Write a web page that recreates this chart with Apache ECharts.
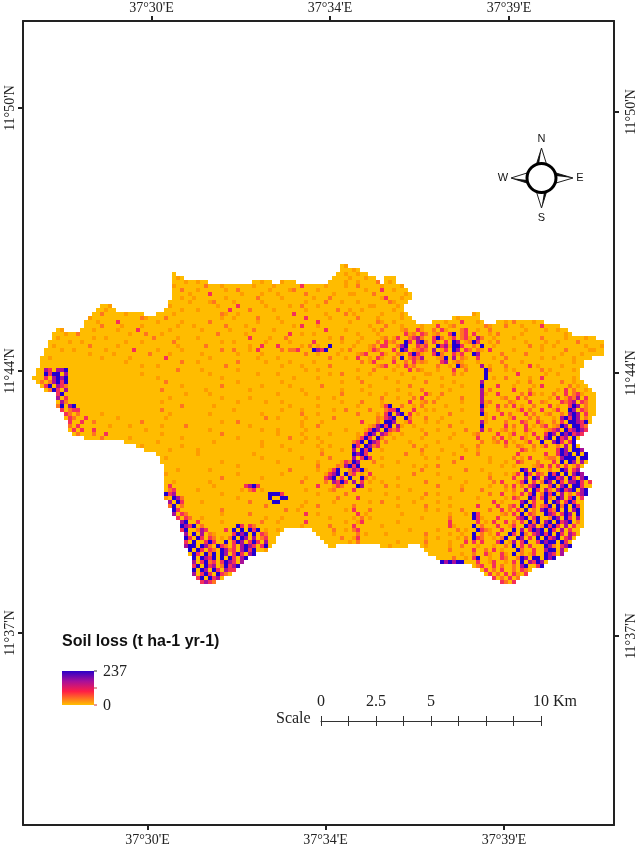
<!DOCTYPE html>
<html>
<head>
<meta charset="utf-8">
<style>html,body{margin:0;padding:0;background:#fff}#c{width:638px;height:847px}</style>
<script src="https://cdn.jsdelivr.net/npm/echarts@6/dist/echarts.min.js"></script>
</head>
<body>
<div id="c"></div>
<script>
const lonLabels = ["37°30'E", "37°34'E", "37°39'E"];
const latLabels = ["11°50'N", "11°44'N", "11°37'N"];
const lonTicksTop = [151.5, 330, 509];
const lonTicksBottom = [147.5, 325.5, 504];
const latTicksLeft = [108, 371, 633];
const latTicksRight = [112, 373, 636];
const scaleKm = [0, 2.5, 5, 10];
const legendTitle = "Soil loss (t ha-1 yr-1)";
const legendRange = ["237", "0"];
const levelColors = ["#FFBC00", "#FF9C00", "#FF7420", "#F5305A", "#A8109A", "#2200D0"];
const rasterRows = [
"|||||||.......01.",
"|||||||.......000|10",
"|||.....0||||......0010|0100",
"|||.....010||||.....00001|000100..00|0",
"|||.....00010|0100|.....00100|..1000|....000010|0100002.01|0",
"|||.....10000|0002000100|0000010000|1000000300|0001000010|0200000100|001",
"|||.....00200|0100000010|0200000001|0000120000|0100000000|0001000300|1000",
"|||.....00001|0000300000|0010000100|0100000020|0000010001|1000020000|00010",
"|||.....00100|1000000010|0000002000|0010000000|1000200000|0000000130|00100",
"|||....000001|0000120000|1000000100|0000000010|0002000100|0100000002|1000",
"|.......001||....100000|0000001000|0300000010|0000100200|0100000000|0000110000|010",
"|......0010|0|...0000100|0100000003|0000200000|1000000010|0000002001|0010000000|100",
"|.....00200|00010000|.000010000|0000000210|0100000000|0000030000|0001000020|1000000100|0010||10",
"|....100000|0000000210|0002000000|0000000100|1000002000|0100000030|0000100000|0200001000|00100|.....01000|00",
"|...0001000|0300000000|0100000100|0000200000|0000001000|0010000000|0300000001|0000002100|100000|0001000300|010...0010|20000100",
"|...0000200|0010000100|0000001000|1000000020|0001000000|0000010300|0100000000|0000100020|0010000100|0300120000|0002100020|0010000300|00",
"......01|..00010000|0100003000|0000100000|0010000001|0000020000|1000000000|0003000010|0000010200|0012003100|2031000230|0100200000|0001000010|0100",
".....00010|0200000000|0000100020|0010000000|0000002000|0001000000|0000300100|1000000000|0100001000|0003120320|1200350230|3000102000|0010000000|00010",
".....01000|0000010010|0000000000|2000001000|0100000000|0000300001|0002000000|0000100200|0010000120|1300234200|3520130231|0420010000|1000000200|0001000010|0",
"....000001|0010000000|0001000100|0000020000|0000000100|1000000010|0000100000|3000000100|0100002031|2005304520|3103054012|5300102000|0001000010|0100002000|000",
"....010000|0000200000|0100000000|0000001000|0002000000|0000100300|0300000102|0100500000|1000120330|0245003230|0534155300|2050010000|0000200100|1000000010|001",
"...0000100|1000000010|0000030000|0100000100|0000000200|2000103000|0020223000|5435000102|0000132000|3054012320|4013054032|0210300000|1000000100|0002000001|100",
"...0000000|0000100000|1000000002|0000100000|0010000000|0100000100|0000000020|0100001000|0123000310|0210353100|3520031300|5400000200|0002000000|0010000100|000",
"..00100000|0000000100|0000100000|0003000000|0000100000|0000001000|0100000000|0000200010|0300103100|2050232400|0125040210|0300010020|0000000100|1000010000",
"..00000000|0000000000|0001000000|0000000200|0100000000|0200000010|0000100000|1000000000|0020130000|3002031210|0034012100|0100000200|0010000000|00000100",
"..00000000|0000000000|0000000100|0100000000|0000000020|0000000000|0010000100|0000200000|0000001230|0103120000|0200105210|0040100020|0000301000|00100000",
".004304450|0000000000|0000000000|0000002000|0010000000|0100000000|0000000010|0100000000|0100020000|1000302100|0100030020|0005200010|1000000201|0000010",
".005355040|0000000000|0000000100|0000000000|0000100000|0000001000|0100000000|0000100200|0000100000|0010000011|0000020100|0005000000|0300000010|0100000",
"0003045450|0000000000|0000000000|0100000000|0000000100|0000000000|0000010000|0100000000|0100000010|0000010000|0010000000|0005010020|0000100300|0000010",
".020245350|0000000000|0000000000|0002000000|0000000000|0100000000|0010000000|0000000100|0020000000|0100000020|0000010000|0040000000|0100200000|00200100",
"..03504320|0000000000|0000000000|0000000100|0000000200|0000000100|0000100000|0020000000|0000100000|0000200000|0010000100|0050003000|1000010300|000020100",
"...0253040|0000000000|0000000000|0020000000|0001000000|0000100000|0000000100|0000000100|0010000000|0100000200|0000100000|0040200000|3000200000|0103020010",
"......3500|0000000000|0000000000|0000000010|0000100000|0000000000|0100000010|0000000200|0000100010|0000100031|0020000000|0041003000|0020310100|2003023100|0",
"......4030|0000000000|0000000000|0000100000|0000000100|0000100000|0000000000|0100010000|0000000200|0100020300|0100000200|0040000120|0302000001|0301324030|0",
"......0420|0000000000|0000000000|0010000000|0000000000|0100000010|0010000000|0000000100|0020000100|0000300120|2000000100|0041200002|1000300210|0032340320|0",
"......2504|5000000000|0000000000|0000000200|0000010000|0000000000|0000100000|0100000000|0100000135|0020010200|0001000000|0051003020|3010020003|0100354020|0",
".......302|3300000000|0000000000|0020000000|0000000000|1000000000|0010000100|0000010020|0000200023|3500030010|1000000100|0040002000|0130200300|1300540320|0",
"........32|0200000100|0000000000|0000100000|0000100000|0000000100|0000000200|0100000000|0200001035|0450301000|0000200000|0051000302|0003020012|0020454030|0",
"........03|2003000000|0100000000|0001000000|0000000000|0000000020|0100000010|0000020000|0000002134|5005200020|0010000000|0001030001|3000202000|1045354020",
".........3|0030020000|0000000200|0000000000|0000000100|0200000000|0000000100|0010000000|0030002055|4001300010|0100000100|0041000020|0032003100|2030554350",
".........2|0300000001|0000100000|0010000020|0000000000|0000100000|0000000100|0200000000|0000124535|0410010000|0000200000|0050000030|2003010230|125405532",
".........0|3030030000|0000000010|0000000000|0000100000|0000000100|0100000010|0000000010|0001354053|2300000100|0100000020|0040200120|1003100012|340534543",
"|0200020030|0000000000|0010000000|0000000200|0000000000|0100000100|0000100000|0103540431|0010000020|0000010000|1200003001|3001030035|40545343",
"|...0000200|0000100000|0000000100|0000000000|0100000000|0000200010|0100000000|0135305200|1000000100|0000100000|0300020301|0031003045|0534050",
"||...00000000|0100000000|0000010000|0000000100|0000000100|0010000000|2350543020|0000100000|0100000000|0020012030|1001300500|453035",
"||......0100|0000000100|0000000000|0000000100|0010000000|0100100000|5305423000|0000020010|0000000100|0200000020|0210020130|0204050",
"||........00|0000100000|0100000000|0000000000|0000100000|0010000100|4053500100|0000000200|0010000010|0100000000|0032010000|03540554",
"|||.000000000|0100000000|0000010000|0000000000|0020000000|5453000000|0002000100|0000010000|0200000000|0300000030|035450505",
"|||..01000000|0000000000|0000000100|0000000100|0000200000|4035300100|0000000010|0100000300|0000100000|2010300012|204555055",
"|||..00000000|0000000100|0000000000|0100000000|0100000132|5400020000|0100000000|0000020000|0000100010|0320002000|305054040",
"|||...0000000|0000000000|0100000000|0000000000|0200002145|3500000100|0000010010|0200000000|0000000100|1000012303|03030130",
"|||...0001000|0000100000|0000000000|0000200000|0100135002|4351000000|0000000200|0000000020|0010000000|0054051002|0054034",
"|||...1000000|0000000000|0100000000|0010000000|0001345052|3010300000|0000020000|0100000000|0000100010|1305303205|35050454",
"|||...0000000|0000000200|0000000100|0000000010|0003450305|0052010000|0100000000|0000100000|0000200000|3004054045|534053045",
"|||...0010000|0000100000|0000000000|0000000200|0002043530|4030100100|0000000020|0000000010|0000020300|0135030254|0530445303",
"|||...0300000|0000010000|0003453000|0000000000|0300013200|0540000020|0100000000|0200000100|0000100020|3020345003|5045055300",
"|||...0230000|0100000000|0010230100|0000000010|0000120000|3000100000|0000100000|0000000200|0020000010|2004053042|045345045",
"|||...5340000|0000000100|0000000005|5530000000|0100000020|0000000010|0000000020|0100000000|0000200300|1030350253|504020345",
"|||...1054200|0000000000|0100000005|0055000000|0000002000|0300000000|0100000100|0000100000|0100000010|3200540352|05403503",
"|||....405300|0010000000|0000200000|5500000010|0000010000|0000100200|0000010000|0100000000|0000030100|0045030050|54035300",
"|||....250200|0000000000|0000000020|0000000100|0200000000|2000000000|0100000020|0000100000|0300003002|3050530235|05250530",
"|||.....53000|0000000200|0000000000|0002001000|0000000010|3000200000|0000000010|0100000200|0000200302|0305020453|25050450",
"|||.....40320|0000000100|0000200000|0000000030|0100000000|0301000000|0010000000|0000100010|5300000120|3050320054|30354050",
"|||......3032|0010000000|0000000010|0010000000|0000100000|1020100000|0000000100|0000200000|5310003000|0345035002|54053040",
"|||.......450|0300000100|0000000200|0100000030|0000000010|0130000000|0100000000|0000300000|0301030030|2030525045|05345020",
"|||.......543|5020000000|0530320000|0000000100|0000200000|3000000100|0000000000|0000310000|5020003001|3005340253|53040300",
"|||.......350|0243000030|5050535010|010|0000020010|2300000000|0000100000|0100002010|0532100300|5040354505|3040300",
"|||........40|5040210000|3545050320|00|.000010000|0201000010|0000000020|0000100100|5020103005|3052034535|0530430",
"|||........53|0530320102|5054040230|0|..00000200|1300000000|0000000010|0100001020|5320010250|0540305053|450340",
"|||........30|5003530050|3540353040|0|...0000001|0200000000|0100000020|0000100030|3030003501|4035003545|50530",
"|||........45|5054205320|3045430350||....00|.......001|0000...010|0000100200|0100010020|5030300054|20345",
"|||.........5|0530320542|304535001||||........00|0000200000|3002030100|0520030045|5040",
"|||.........0|5305250540|353045||||.........0|0000000100|2003100310|5020130054|304",
"||||5054350505|3045|||||.000020010|3500100320|0254055054|5",
"||||4035230354|304|||||..54545500|0300130010|305043540",
"||||3505340253|45||||||0230030200|20450035",
"||||5054053043|3||||||..03020300|20320",
"||||4035305320|||||||...0302030|3103",
"||||.3505340|||||||.....30203|02",
"||||..3432|||||||.......320|3"
];
const rasterLeft = 32, rasterTop = 264, cell = 4;

const cells = [];
rasterRows.forEach((row, r) => {
  row.split('|').forEach((chunk, i) => {
    for (let p = 0; p < chunk.length && p < 10; p++) {
      if (chunk[p] !== '.') cells.push([rasterLeft + cell * (i * 10 + p), rasterTop + cell * r, +chunk[p]]);
    }
  });
});

const serif = '"Liberation Serif", serif';
const sans = '"Liberation Sans", sans-serif';
const ink = '#222';
const pick = (vals, labels) => v => { const i = vals.indexOf(v); return i < 0 ? '' : labels[i]; };
const frameAxis = (o, vals, labels, margin, extra) => Object.assign({
  type: 'value', min: 0, max: 1, gridIndex: 0, scale: false,
  axisLine: {show: true, onZero: false, lineStyle: {color: ink, width: 2}},
  axisTick: {show: true, length: 5, customValues: vals, lineStyle: {color: ink, width: 2}},
  axisLabel: Object.assign({show: true, customValues: vals, formatter: pick(vals, labels), color: ink, fontFamily: serif, fontSize: 14, margin}, extra),
  splitLine: {show: false}
}, o);

const spike = (pts, half) => [
  {type: 'polygon', shape: {points: pts}, style: {fill: '#fff', stroke: '#222', lineWidth: 1}},
  {type: 'polygon', shape: {points: half}, style: {fill: '#111'}}
];
const cx = 541.5, cy = 178;
const compass = [
  ...spike([[cx,148],[cx-5,164],[cx+5,164]], [[cx,148],[cx-5,164],[cx-2.5,164]]),
  ...spike([[cx,208],[cx-5,192],[cx+5,192]], [[cx,208],[cx+5,192],[cx+2.5,192]]),
  ...spike([[573,cy],[556,cy-5],[556,cy+5]], [[573,cy],[556,cy-5],[556,cy-2]]),
  ...spike([[511,cy],[527,cy-5],[527,cy+5]], [[511,cy],[527,cy+5],[527,cy+2]]),
  {type: 'circle', shape: {cx, cy, r: 14.5}, style: {fill: '#fff', stroke: '#000', lineWidth: 3}}
].concat([['N',cx,139],['S',cx,218],['W',503,cy],['E',580,cy]].map(([t,x,y]) => ({
  type: 'text', x, y, style: {text: t, fill: '#111', font: '11px ' + sans, align: 'center', verticalAlign: 'middle'}
})));

const option = {
  animation: false,
  backgroundColor: '#fff',
  grid: [
    {left: 23, top: 21, width: 591, height: 804, containLabel: false, outerBoundsMode: 'none'},
    {left: 321, top: 720, width: 220, height: 1, containLabel: false, outerBoundsMode: 'none'}
  ],
  xAxis: [
    frameAxis({position: 'bottom', min: 23, max: 614}, lonTicksBottom, lonLabels, 8),
    frameAxis({position: 'top', min: 23, max: 614}, lonTicksTop, lonLabels, 6),
    {gridIndex: 1, type: 'value', position: 'top', min: 0, max: 10, interval: 1.25,
     axisLine: {show: true, lineStyle: {color: '#333', width: 1}},
     axisTick: {show: true, length: 5, lineStyle: {color: '#333', width: 1}},
     axisLabel: {show: true, customValues: scaleKm, color: ink, fontFamily: serif, fontSize: 16, margin: 10, hideOverlap: false},
     splitLine: {show: false}},
    {gridIndex: 1, type: 'value', position: 'bottom', min: 0, max: 10, interval: 1.25,
     axisLine: {show: false},
     axisTick: {show: true, length: 5, lineStyle: {color: '#333', width: 1}},
     axisLabel: {show: false}, splitLine: {show: false}}
  ],
  yAxis: [
    frameAxis({position: 'left', inverse: true, min: 21, max: 825}, latTicksLeft, latLabels, 6, {rotate: 90, align: 'center', verticalAlign: 'bottom'}),
    frameAxis({position: 'right', inverse: true, min: 21, max: 825}, latTicksRight, latLabels, 10, {rotate: 90, align: 'center', verticalAlign: 'top'}),
    {gridIndex: 1, type: 'value', show: false, min: 0, max: 1}
  ],
  series: [{
    type: 'custom',
    xAxisIndex: 0, yAxisIndex: 0,
    silent: true,
    data: cells,
    encode: {x: 0, y: 1},
    renderItem(params, api) {
      const p = api.coord([api.value(0), api.value(1)]);
      const s = api.size([cell, cell]);
      return {type: 'rect', shape: {x: p[0], y: p[1], width: s[0], height: s[1]},
              style: {fill: levelColors[api.value(2)]}};
    }
  }],
  graphic: [
    {type: 'text', x: 62, y: 642, style: {text: legendTitle, fill: '#111', font: 'bold 16px ' + sans, verticalAlign: 'middle'}},
    {type: 'rect', shape: {x: 62, y: 671, width: 32, height: 34}, style: {fill: new echarts.graphic.LinearGradient(0, 0, 0, 1, [
      {offset: 0, color: '#2A00C8'}, {offset: 0.3, color: '#A8109A'}, {offset: 0.6, color: '#FF1E46'}, {offset: 1, color: '#FFC000'}
    ])}},
    {type: 'line', shape: {x1: 94, y1: 671, x2: 97, y2: 671}, style: {stroke: '#333'}},
    {type: 'line', shape: {x1: 94, y1: 688, x2: 97, y2: 688}, style: {stroke: '#c33'}},
    {type: 'line', shape: {x1: 94, y1: 705, x2: 97, y2: 705}, style: {stroke: '#c33'}},
    {type: 'text', x: 103, y: 672, style: {text: legendRange[0], fill: ink, font: '16px ' + serif, verticalAlign: 'middle'}},
    {type: 'text', x: 103, y: 706, style: {text: legendRange[1], fill: ink, font: '16px ' + serif, verticalAlign: 'middle'}},
    {type: 'text', x: 276, y: 719, style: {text: 'Scale', fill: ink, font: '16px ' + serif, verticalAlign: 'middle'}},
    {type: 'text', x: 553, y: 702, style: {text: 'Km', fill: ink, font: '16px ' + serif, verticalAlign: 'middle'}},
    ...compass
  ]
};
const chart = echarts.init(document.getElementById('c'), null, {renderer: 'canvas'});
chart.setOption(option);
</script>
</body>
</html>
